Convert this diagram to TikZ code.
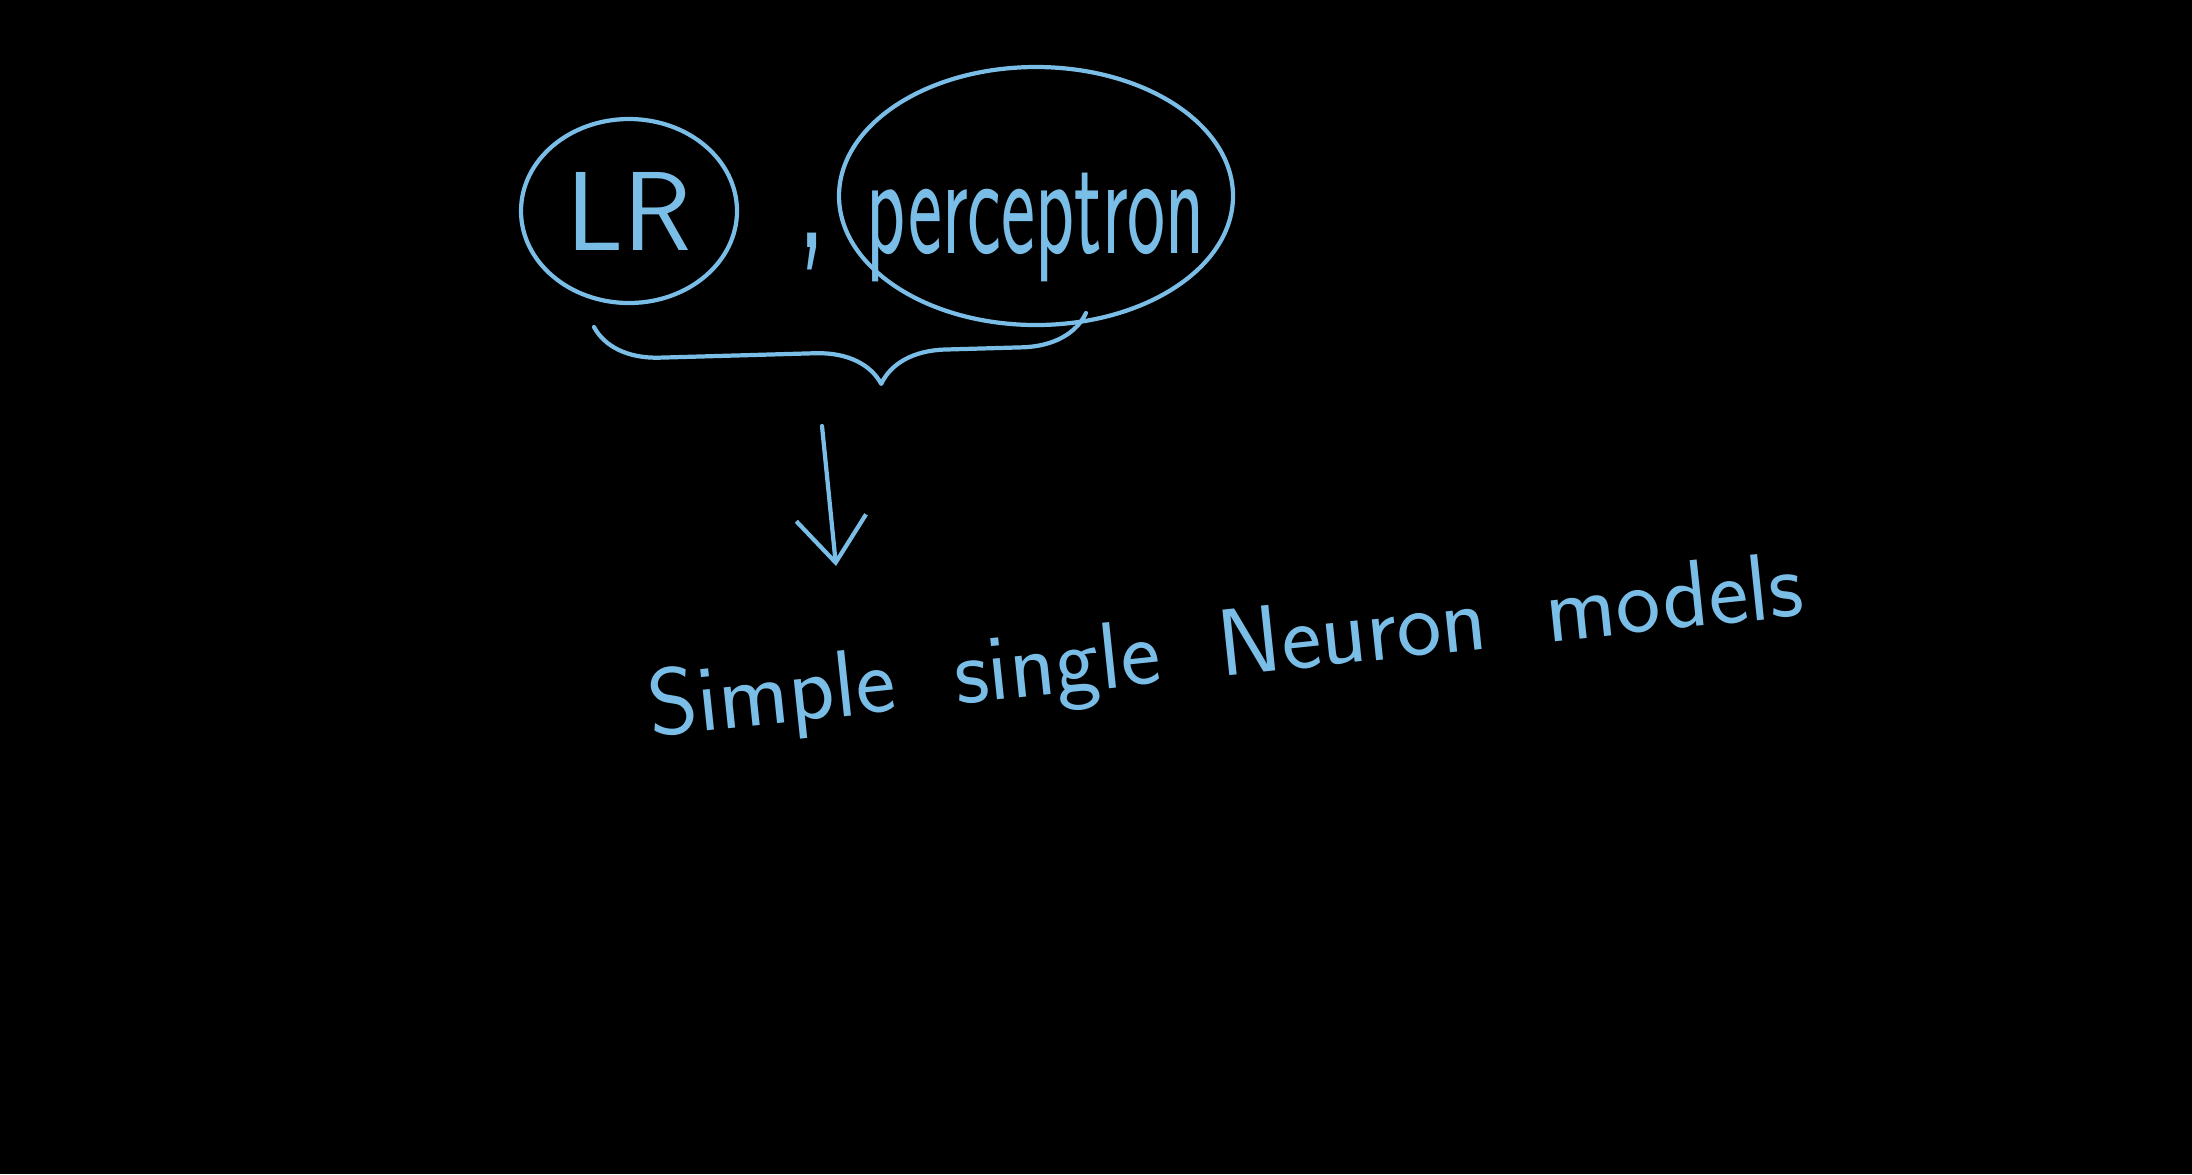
\documentclass[tikz,border=0pt]{standalone}
\usepackage{graphicx}
\usepackage{tikz}
\usetikzlibrary{arrows.meta,shapes.geometric,decorations.pathreplacing}
\definecolor{chalk}{RGB}{122,190,232}
\tikzset{
	ink/.style={draw=chalk, line width=1.2pt, line cap=round, line join=round},
	ring/.style={ink, ellipse, inner sep=0pt, text=chalk},
	scrawl/.style={text=chalk, font=\sffamily},
}

\begin{document}
\begin{tikzpicture}
			%%%%% START %%%%%
			
			\fill[black] (0, 0) rectangle (21.92, -11.74);
			\useasboundingbox (0, 0) rectangle (21.92, -11.74);
			
			\node[ring, minimum width=2.16cm, minimum height=1.84cm, font=\sffamily\fontsize{32}{36}\selectfont] (lr) at (6.29, -2.11) {LR};
			\node[scrawl, font=\sffamily\fontsize{32}{36}\selectfont] (comma) at (8.12, -2.52) {\scalebox{1}[1.6]{,}};
			\node[ring, minimum width=3.94cm, minimum height=2.58cm] (pctring) at (10.36, -1.96) {};
			\node[scrawl, font=\sffamily\fontsize{23}{26}\selectfont] (pct) at (10.36, -2.27) {\raisebox{-0.35cm}{\scalebox{1}[1.8]{perceptron}}};
			
			\coordinate (bl) at (5.94, -3.27);
			\coordinate (br) at (10.86, -3.13);
			\draw[ink, decorate, decoration={brace, mirror, amplitude=0.65cm, aspect=0.58}] (bl) -- (br);
			
			\coordinate (atop) at (8.22, -4.26);
			\coordinate (abot) at (8.36, -5.66);
			\draw[ink, -{Straight Barb[length=4.5mm, width=7mm]}] (atop) -- (abot);
			
			\node[scrawl, rotate=6, font=\sffamily\fontsize{27}{31}\selectfont] (snm) at (12.26, -6.52) {Simple \ single \ Neuron \ models};
			
			%%%%% END %%%%%
		\end{tikzpicture}
\end{document}
